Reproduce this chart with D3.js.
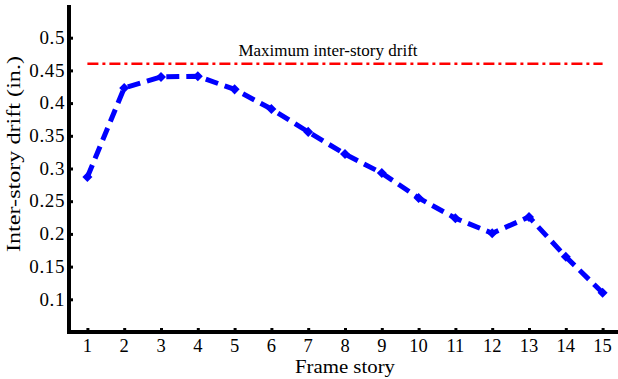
<!DOCTYPE html>
<html>
<head>
<meta charset="utf-8">
<script src="https://cdn.jsdelivr.net/npm/d3@7"></script>
<style>
  body { margin: 0; background: #fff; }
</style>
</head>
<body>
<svg class="graph"></svg>
<script>
const stories = [1, 2, 3, 4, 5, 6, 7, 8, 9, 10, 11, 12, 13, 14, 15];
const drift = [0.287, 0.423, 0.440, 0.441, 0.421, 0.391, 0.356, 0.322, 0.293, 0.255, 0.224, 0.201, 0.226, 0.165, 0.110];
const maxDrift = 0.46;
const yTicks = [0.1, 0.15, 0.2, 0.25, 0.3, 0.35, 0.4, 0.45, 0.5];
const yTickLabels = ['0.1', '0.15', '0.2', '0.25', '0.3', '0.35', '0.4', '0.45', '0.5'];

const width = 618;
const height = 379;
const margin = { top: 5, bottom: 47, right: -3, left: 69 };
const serif = 'Liberation Serif, Times New Roman, Times, serif';

const svg = d3.select('.graph')
  .attr('width', width)
  .attr('height', height)
  .attr('font-family', serif);

const x = d3.scaleLinear()
  .domain([0.5, 15.5])
  .range([margin.left, width - margin.right]);

const y = d3.scaleLinear()
  .domain([0.05, 0.55])
  .range([height - margin.bottom, margin.top]);

// axes, ticks pointing inward
const xAxis = svg.append('g')
  .attr('transform', `translate(0, ${y(0.05)})`)
  .call(d3.axisTop(x).tickValues(stories).tickSize(4).tickFormat(''));
xAxis.select('.domain').remove();
xAxis.selectAll('line').attr('stroke', '#000').attr('stroke-width', 3);

const yAxis = svg.append('g')
  .attr('transform', `translate(${x(0.5)}, 0)`)
  .call(d3.axisRight(y).tickValues(yTicks).tickSize(4).tickFormat(''));
yAxis.select('.domain').remove();
yAxis.selectAll('line').attr('stroke', '#000').attr('stroke-width', 3);

svg.append('path')
  .attr('d', `M${x(0.5)},${y(0.55)}V${y(0.05)}H${x(15.5)}`)
  .attr('fill', 'none')
  .attr('stroke', '#000')
  .attr('stroke-width', 4);

// tick labels
svg.selectAll('.xlab')
  .data(stories)
  .enter()
  .append('text')
  .attr('font-family', serif)
  .attr('x', d => x(d))
  .attr('y', y(0.05) + 19.5)
  .attr('text-anchor', 'middle')
  .attr('font-size', '18.5px')
  .text(d => d);

svg.selectAll('.ylab')
  .data(yTicks)
  .enter()
  .append('text')
  .attr('font-family', serif)
  .attr('x', x(0.5) - 4)
  .attr('y', d => y(d))
  .attr('dy', '0.33em')
  .attr('text-anchor', 'end')
  .attr('font-size', '19px')
  .attr('letter-spacing', '0.6px')
  .text((d, i) => yTickLabels[i]);

svg.append('text')
  .attr('font-family', serif)
  .attr('x', 345)
  .attr('y', y(0.05) + 41)
  .attr('text-anchor', 'middle')
  .attr('font-size', '19px')
  .attr('textLength', 100)
  .attr('lengthAdjust', 'spacingAndGlyphs')
  .text('Frame story');

svg.append('text')
  .attr('font-family', serif)
  .attr('transform', 'translate(19.5, 154) rotate(-90)')
  .attr('text-anchor', 'middle')
  .attr('font-size', '19px')
  .attr('textLength', 196)
  .attr('lengthAdjust', 'spacingAndGlyphs')
  .text('Inter-story drift (in.)');

// maximum drift line
svg.append('line')
  .attr('x1', x(1))
  .attr('x2', x(15))
  .attr('y1', y(maxDrift))
  .attr('y2', y(maxDrift))
  .attr('stroke', '#ff0000')
  .attr('stroke-width', 2.5)
  .attr('stroke-dasharray', '11,4,3,4');

svg.append('text')
  .attr('font-family', serif)
  .attr('x', 328)
  .attr('y', 55.5)
  .attr('text-anchor', 'middle')
  .attr('font-size', '17px')
  .text('Maximum inter-story drift');

// drift series
const line = d3.line()
  .x((d, i) => x(stories[i]))
  .y(d => y(d));

svg.append('path')
  .datum(drift)
  .attr('d', line)
  .attr('fill', 'none')
  .attr('stroke', '#0000ff')
  .attr('stroke-width', 5)
  .attr('stroke-dasharray', '13,7');

const diamond = d3.symbol().type(d3.symbolDiamond2).size(64);
svg.selectAll('.pt')
  .data(drift)
  .enter()
  .append('path')
  .attr('d', diamond)
  .attr('transform', (d, i) => `translate(${x(stories[i])}, ${y(d)})`)
  .attr('fill', '#0000ff');
</script>
</body>
</html>
